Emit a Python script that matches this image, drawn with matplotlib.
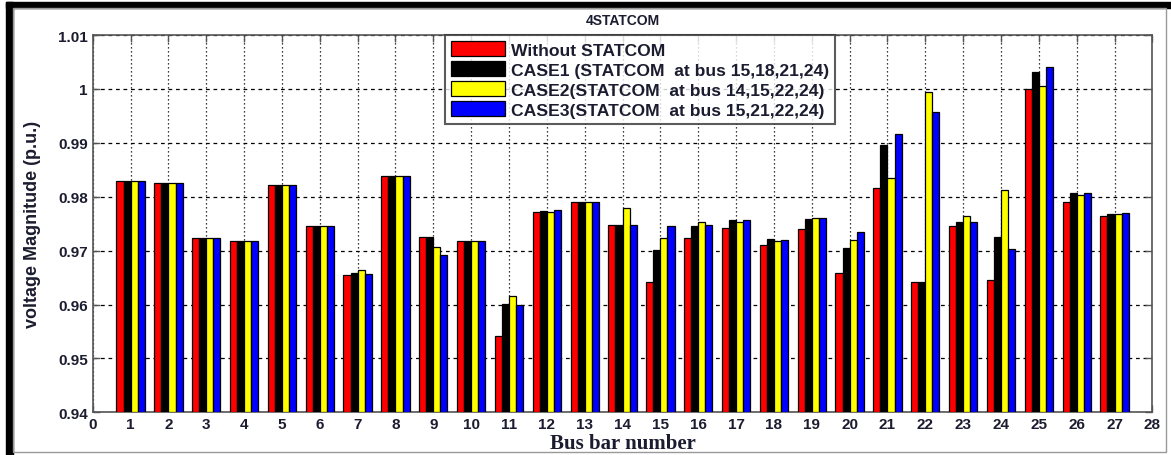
import matplotlib.pyplot as plt
import numpy as np
from matplotlib.patches import Rectangle

buses = list(range(1, 28))

without_statcom = [0.9829, 0.9825, 0.9723, 0.9717, 0.9821, 0.9746, 0.9654, 0.9839, 0.9725,
                   0.9717, 0.9542, 0.9771, 0.9791, 0.9748, 0.9641, 0.9723, 0.9742, 0.9711,
                   0.9740, 0.9658, 0.9817, 0.9642, 0.9745, 0.9645, 0.9999, 0.9791, 0.9765]
case1 = [0.9829, 0.9825, 0.9723, 0.9717, 0.9821, 0.9746, 0.9659, 0.9839, 0.9725,
         0.9717, 0.9601, 0.9774, 0.9791, 0.9748, 0.9702, 0.9745, 0.9756, 0.9721,
         0.9758, 0.9705, 0.9896, 0.9642, 0.9754, 0.9725, 1.0032, 0.9806, 0.9768]
case2 = [0.9829, 0.9825, 0.9723, 0.9717, 0.9821, 0.9746, 0.9664, 0.9839, 0.9707,
         0.9717, 0.9616, 0.9772, 0.9791, 0.9780, 0.9723, 0.9753, 0.9754, 0.9717,
         0.9761, 0.9719, 0.9834, 0.9994, 0.9764, 0.9813, 1.0006, 0.9803, 0.9768]
case3 = [0.9829, 0.9825, 0.9723, 0.9717, 0.9821, 0.9746, 0.9657, 0.9839, 0.9691,
         0.9717, 0.9599, 0.9776, 0.9791, 0.9748, 0.9745, 0.9748, 0.9756, 0.9719,
         0.9761, 0.9735, 0.9917, 0.9957, 0.9753, 0.9703, 1.0041, 0.9806, 0.9770]

series = [without_statcom, case1, case2, case3]
labels = ['Without STATCOM',
          'CASE1 (STATCOM  at bus 15,18,21,24)',
          'CASE2(STATCOM  at bus 14,15,22,24)',
          'CASE3(STATCOM  at bus 15,21,22,24)']
colors = ['#ff0000', '#000000', '#ffff00', '#0000ff']

txt = '#1c1c30'
plt.rcParams['font.family'] = ['Liberation Sans', 'DejaVu Sans']

fig = plt.figure(figsize=(11.71, 4.56), dpi=100)
ax = fig.add_axes([0.0792, 0.0936, 0.9049, 0.8274])

# frame around the picture: thick black top/left, thin grey right/bottom
fig.patches.append(Rectangle((0.005, 0.98), 0.995, 0.014, transform=fig.transFigure,
                             color='black', zorder=10))
fig.patches.append(Rectangle((0.005, 0.0), 0.006, 0.994, transform=fig.transFigure,
                             color='black', zorder=10))
fig.patches.append(Rectangle((0.011, 0.006), 0.985, 0.974, transform=fig.transFigure,
                             fill=False, edgecolor='#999999', lw=1, zorder=10))

x = np.array(buses)
w = 0.187
for i, (vals, c, lab) in enumerate(zip(series, colors, labels)):
    ax.bar(x + (i - 1.5) * w, np.array(vals) - 0.94, bottom=0.94, width=w,
           color=c, edgecolor='black', linewidth=0.9, label=lab, zorder=3)

ax.set_xlim(0, 28)
ax.set_ylim(0.94, 1.01)
ax.set_xticks(range(0, 29))
ax.set_yticks(np.arange(0.94, 1.0101, 0.01))
ax.set_yticklabels(['0.94', '0.95', '0.96', '0.97', '0.98', '0.99', '1', '1.01'])

ax.grid(axis='x', color='black', linestyle=(0, (1, 2.2)), linewidth=0.9, zorder=0)
ax.grid(axis='y', color='black', linestyle=(0, (3, 3)), linewidth=0.9, zorder=0)
ax.set_axisbelow(True)

ax.tick_params(direction='in', top=True, right=True, length=5, width=1, color='#555555')
for lab in ax.get_xticklabels() + ax.get_yticklabels():
    lab.set_fontweight('bold')
    lab.set_fontsize(11)
    lab.set_color(txt)
for s in ax.spines.values():
    s.set_color('#555555')
    s.set_linewidth(1.2)

ax.set_title('4STATCOM', fontsize=10, fontweight='bold', color=txt, pad=8)
ax.set_xlabel('Bus bar number', fontsize=15, fontweight='bold', color=txt,
              family=['Liberation Serif', 'DejaVu Serif'], labelpad=1)
ax.set_ylabel('voltage Magnitude (p.u.)', fontsize=13, fontweight='bold', color=txt,
              labelpad=12)

leg = ax.legend(loc='upper left', bbox_to_anchor=(0.332, 1.0), frameon=True,
                fancybox=False, edgecolor='#333333',
                prop={'weight': 'bold', 'size': 12.6}, handlelength=3.1,
                handleheight=0.95, handletextpad=0.35, labelspacing=0.2,
                borderpad=0.35, borderaxespad=0.0)
leg.get_frame().set_linewidth(1.5)
leg.set_zorder(5)
for t in leg.get_texts():
    t.set_color(txt)

fig.savefig('out.png', dpi=100)
